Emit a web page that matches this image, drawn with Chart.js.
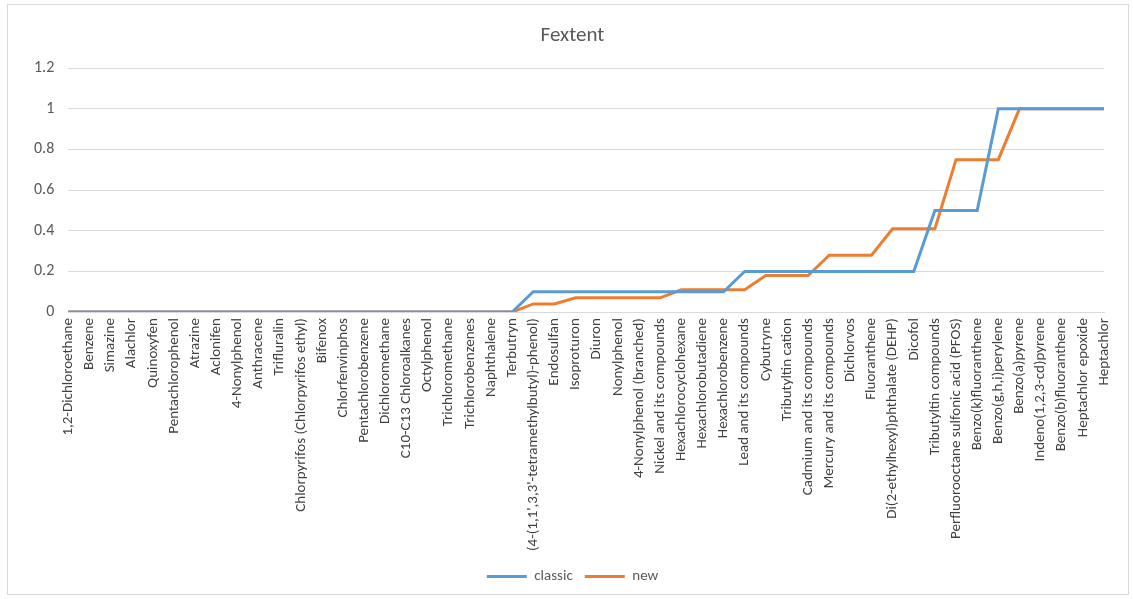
<!DOCTYPE html>
<html>
<head>
<meta charset="utf-8">
<script src="https://cdn.jsdelivr.net/npm/chart.js@4.4.0/dist/chart.umd.min.js"></script>
<style>
    html, body { margin: 0; padding: 0; background: #fff; }
    #box {
        position: absolute;
        left: 7px; top: 4px;
        width: 1120px; height: 589px;
        border: 1px solid #d9d9d9;
    }
</style>
</head>
<body>
<div id="box"><canvas id="chart"></canvas></div>
<script>
const categories = [
    '1,2-Dichloroethane', 'Benzene', 'Simazine', 'Alachlor', 'Quinoxyfen',
    'Pentachlorophenol', 'Atrazine', 'Aclonifen', '4-Nonylphenol', 'Anthracene',
    'Trifluralin', 'Chlorpyrifos (Chlorpyrifos ethyl)', 'Bifenox', 'Chlorfenvinphos', 'Pentachlorobenzene',
    'Dichloromethane', 'C10-C13 Chloroalkanes', 'Octylphenol', 'Trichloromethane', 'Trichlorobenzenes',
    'Naphthalene', 'Terbutryn', "(4-(1,1',3,3'-tetramethylbutyl)-phenol)", 'Endosulfan', 'Isoproturon',
    'Diuron', 'Nonylphenol', '4-Nonylphenol (branched)', 'Nickel and its compounds', 'Hexachlorocyclohexane',
    'Hexachlorobutadiene', 'Hexachlorobenzene', 'Lead and its compounds', 'Cybutryne', 'Tributyltin cation',
    'Cadmium and its compounds', 'Mercury and its compounds', 'Dichlorvos', 'Fluoranthene', 'Di(2-ethylhexyl)phthalate (DEHP)',
    'Dicofol', 'Tributyltin compounds', 'Perfluorooctane sulfonic acid (PFOS)', 'Benzo(k)fluoranthene', 'Benzo(g,h,i)perylene',
    'Benzo(a)pyrene', 'Indeno(1,2,3-cd)pyrene', 'Benzo(b)fluoranthene', 'Heptachlor epoxide', 'Heptachlor'
];

const classic = [
    0, 0, 0, 0, 0, 0, 0, 0, 0, 0,
    0, 0, 0, 0, 0, 0, 0, 0, 0, 0,
    0, 0, 0.1, 0.1, 0.1, 0.1, 0.1, 0.1, 0.1, 0.1,
    0.1, 0.1, 0.2, 0.2, 0.2, 0.2, 0.2, 0.2, 0.2, 0.2,
    0.2, 0.5, 0.5, 0.5, 1, 1, 1, 1, 1, 1
];

const newValues = [
    0, 0, 0, 0, 0, 0, 0, 0, 0, 0,
    0, 0, 0, 0, 0, 0, 0, 0, 0, 0,
    0, 0, 0.04, 0.04, 0.07, 0.07, 0.07, 0.07, 0.07, 0.11,
    0.11, 0.11, 0.11, 0.18, 0.18, 0.18, 0.28, 0.28, 0.28, 0.41,
    0.41, 0.41, 0.75, 0.75, 0.75, 1, 1, 1, 1, 1
];

const yTicks = [0, 0.2, 0.4, 0.6, 0.8, 1, 1.2];

const fontFamily = 'Carlito, "Liberation Sans Narrow", "Open Sans", sans-serif';
const textColor = '#595959';

new Chart(document.getElementById('chart').getContext('2d'), {
    type: 'line',
    data: {
        labels: categories,
        datasets: [{
            label: 'classic',
            data: classic,
            borderColor: '#5b9bd5',
            backgroundColor: '#5b9bd5',
            borderWidth: 3,
            pointRadius: 0,
            tension: 0
        }, {
            label: 'new',
            data: newValues,
            borderColor: '#ed7d31',
            backgroundColor: '#ed7d31',
            borderWidth: 3,
            pointRadius: 0,
            tension: 0
        }]
    },
    options: {
        responsive: true,
        maintainAspectRatio: false,
        animation: false,
        layout: {
            padding: { left: 12, right: 3, top: 6, bottom: 0 }
        },
        plugins: {
            title: {
                display: true,
                text: 'Fextent',
                color: textColor,
                font: { family: fontFamily, size: 21, weight: 'normal' },
                padding: { top: 12, bottom: 20 }
            },
            legend: {
                position: 'bottom',
                labels: {
                    usePointStyle: true,
                    pointStyle: 'line',
                    pointStyleWidth: 40,
                    color: textColor,
                    font: { family: fontFamily, size: 15 },
                    padding: 12
                }
            },
            tooltip: { enabled: false }
        },
        scales: {
            x: {
                grid: { display: false, drawTicks: false },
                border: { color: '#d9d9d9' },
                ticks: {
                    autoSkip: false,
                    maxRotation: 90,
                    minRotation: 90,
                    color: '#404040',
                    padding: 6,
                    font: { family: fontFamily, size: 15 }
                }
            },
            y: {
                min: 0,
                max: 1.2,
                afterBuildTicks: axis => {
                    axis.ticks = yTicks.map(v => ({ value: v }));
                },
                grid: { color: '#d9d9d9', drawTicks: false },
                border: { display: false },
                ticks: {
                    color: textColor,
                    padding: 14,
                    font: { family: fontFamily, size: 16 },
                    callback: value => String(value)
                }
            }
        }
    }
});
</script>
</body>
</html>
